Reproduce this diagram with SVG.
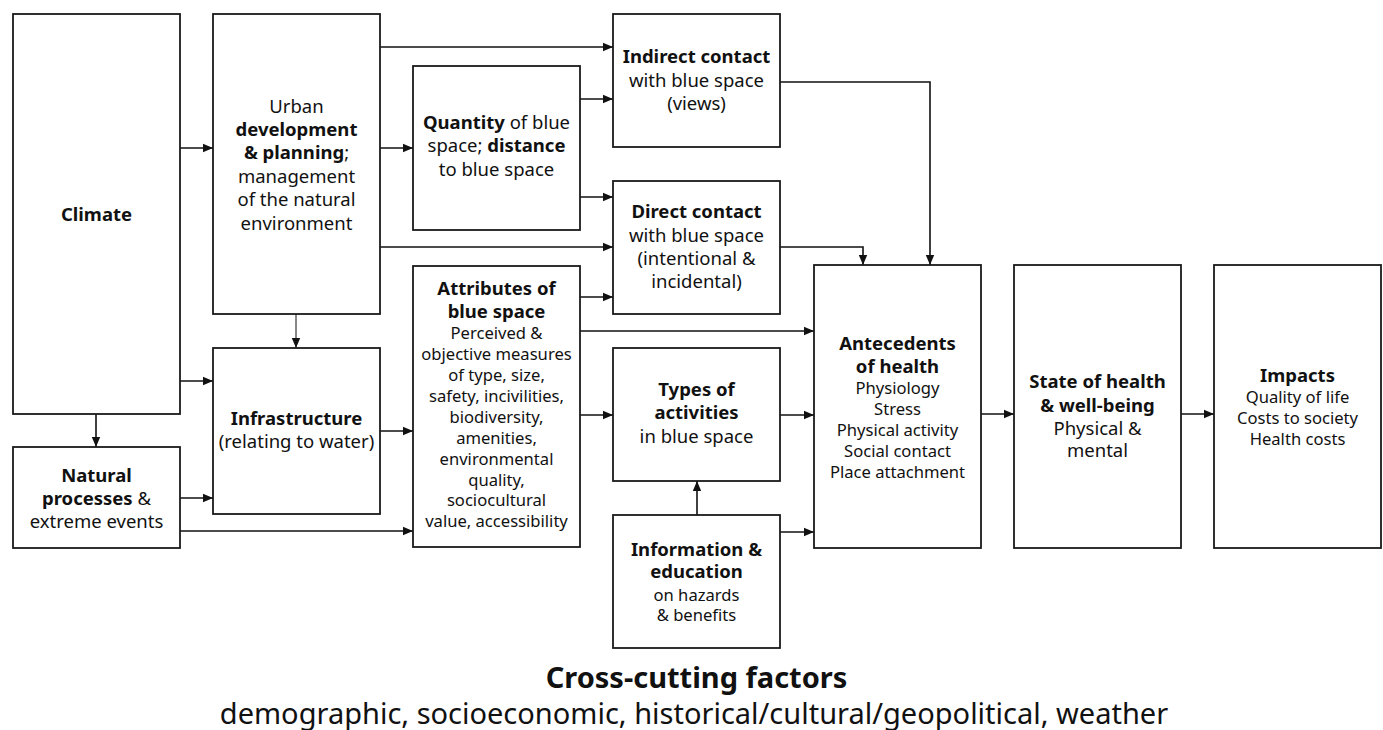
<svg xmlns="http://www.w3.org/2000/svg" width="1383" height="730" viewBox="0 0 1383 730">
<style>
  .box { fill: #ffffff; stroke: #1a1a1a; stroke-width: 1.8; }
  text { font-family: "Noto Sans", "DejaVu Sans", sans-serif; fill: #111111; text-anchor: middle; }
  .t { font-size: 18.5px; }
  .s { font-size: 16.6px; }
  .b { font-weight: bold; }
  .c { fill: none; stroke: #111111; stroke-width: 1.6; marker-end: url(#ah); }
  .thin { stroke-width: 1; }
  .foot { font-size: 29px; }
</style>
<defs>
  <marker id="ah" markerUnits="userSpaceOnUse" markerWidth="10" markerHeight="10" refX="10" refY="5" orient="auto">
    <path d="M0,0.8 L10,5 L0,9.2 z" fill="#111111"/>
  </marker>
</defs>
<rect width="1383" height="730" fill="#ffffff"/>

<g id="connectors">
  <path class="c" d="M180,148 H213"/>
  <path class="c" d="M380,148 H413"/>
  <path class="c" d="M380,47 H613"/>
  <path class="c" d="M380,247 H613"/>
  <path class="c thin" d="M296,314 V348"/>
  <path class="c" d="M180,381 H213"/>
  <path class="c" d="M96,414 V447"/>
  <path class="c" d="M180,498 H213"/>
  <path class="c" d="M180,531 H413"/>
  <path class="c" d="M380,431 H413"/>
  <path class="c" d="M580,99 H613"/>
  <path class="c" d="M580,197 H613"/>
  <path class="c" d="M580,297 H613"/>
  <path class="c" d="M580,331 H814"/>
  <path class="c" d="M580,415 H613"/>
  <path class="c" d="M780,415 H814"/>
  <path class="c" d="M697,515 V481"/>
  <path class="c" d="M780,532 H814"/>
  <path class="c" d="M780,82 H930 V265"/>
  <path class="c" d="M780,247 H863 V265"/>
  <path class="c" d="M981,414 H1014"/>
  <path class="c" d="M1181,414 H1214"/>
</g>

<g id="climate">
  <rect class="box" x="13" y="14" width="167" height="400"/>
  <text class="t b" x="96.5" y="221">Climate</text>
</g>

<g id="urban">
  <rect class="box" x="213" y="14" width="167" height="300"/>
  <text class="t" x="296.5" y="113">Urban</text>
  <text class="t b" x="296.5" y="136">development</text>
  <text class="t" x="296.5" y="159"><tspan class="b">&amp; planning</tspan>;</text>
  <text class="t" x="296.5" y="183">management</text>
  <text class="t" x="296.5" y="206">of the natural</text>
  <text class="t" x="296.5" y="230">environment</text>
</g>

<g id="quantity">
  <rect class="box" x="413" y="66" width="167" height="164"/>
  <text class="t" x="496.5" y="129"><tspan class="b">Quantity</tspan> of blue</text>
  <text class="t" x="496.5" y="152">space; <tspan class="b">distance</tspan></text>
  <text class="t" x="496.5" y="176">to blue space</text>
</g>

<g id="indirect">
  <rect class="box" x="613" y="14" width="167" height="133"/>
  <text class="t b" x="696.5" y="63">Indirect contact</text>
  <text class="t" x="696.5" y="87">with blue space</text>
  <text class="t" x="696.5" y="110">(views)</text>
</g>

<g id="direct">
  <rect class="box" x="613" y="181" width="167" height="133"/>
  <text class="t b" x="696.5" y="218">Direct contact</text>
  <text class="t" x="696.5" y="242">with blue space</text>
  <text class="t" x="696.5" y="265">(intentional &amp;</text>
  <text class="t" x="696.5" y="288">incidental)</text>
</g>

<g id="attributes">
  <rect class="box" x="413" y="266" width="167" height="281"/>
  <text class="t b" x="496.5" y="295">Attributes of</text>
  <text class="t b" x="496.5" y="318">blue space</text>
  <text class="s" x="496.5" y="339">Perceived &amp;</text>
  <text class="s" x="496.5" y="360">objective measures</text>
  <text class="s" x="496.5" y="381">of type, size,</text>
  <text class="s" x="496.5" y="402">safety, incivilities,</text>
  <text class="s" x="496.5" y="423">biodiversity,</text>
  <text class="s" x="496.5" y="444">amenities,</text>
  <text class="s" x="496.5" y="465">environmental</text>
  <text class="s" x="496.5" y="486">quality,</text>
  <text class="s" x="496.5" y="506">sociocultural</text>
  <text class="s" x="496.5" y="527">value, accessibility</text>
</g>

<g id="infrastructure">
  <rect class="box" x="213" y="348" width="167" height="166"/>
  <text class="t b" x="296.5" y="425">Infrastructure</text>
  <text class="t" x="296.5" y="448">(relating to water)</text>
</g>

<g id="natural">
  <rect class="box" x="13" y="447" width="167" height="101"/>
  <text class="t b" x="96.5" y="482">Natural</text>
  <text class="t" x="96.5" y="505"><tspan class="b">processes</tspan> &amp;</text>
  <text class="t" x="96.5" y="528">extreme events</text>
</g>

<g id="types">
  <rect class="box" x="613" y="348" width="167" height="133"/>
  <text class="t b" x="696.5" y="396">Types of</text>
  <text class="t b" x="696.5" y="419">activities</text>
  <text class="t" x="696.5" y="443">in blue space</text>
</g>

<g id="information">
  <rect class="box" x="613" y="515" width="167" height="133"/>
  <text class="t b" x="696.5" y="556">Information &amp;</text>
  <text class="t b" x="696.5" y="578">education</text>
  <text class="s" x="696.5" y="601">on hazards</text>
  <text class="s" x="696.5" y="621">&amp; benefits</text>
</g>

<g id="antecedents">
  <rect class="box" x="814" y="265" width="167" height="283"/>
  <text class="t b" x="897.5" y="350">Antecedents</text>
  <text class="t b" x="897.5" y="373">of health</text>
  <text class="s" x="897.5" y="394">Physiology</text>
  <text class="s" x="897.5" y="415">Stress</text>
  <text class="s" x="897.5" y="436">Physical activity</text>
  <text class="s" x="897.5" y="457">Social contact</text>
  <text class="s" x="897.5" y="478">Place attachment</text>
</g>

<g id="state">
  <rect class="box" x="1014" y="265" width="167" height="283"/>
  <text class="t b" x="1097.5" y="388">State of health</text>
  <text class="t b" x="1097.5" y="412">&amp; well-being</text>
  <text class="t" x="1097.5" y="435">Physical &amp;</text>
  <text class="t" x="1097.5" y="457">mental</text>
</g>

<g id="impacts">
  <rect class="box" x="1214" y="265" width="167" height="283"/>
  <text class="t b" x="1297.5" y="382">Impacts</text>
  <text class="s" x="1297.5" y="403">Quality of life</text>
  <text class="s" x="1297.5" y="424">Costs to society</text>
  <text class="s" x="1297.5" y="445">Health costs</text>
</g>

<g id="crosscutting">
  <text class="foot b" x="696.5" y="688">Cross-cutting factors</text>
  <text class="foot" x="694" y="724">demographic, socioeconomic, historical/cultural/geopolitical, weather</text>
</g>
</svg>
